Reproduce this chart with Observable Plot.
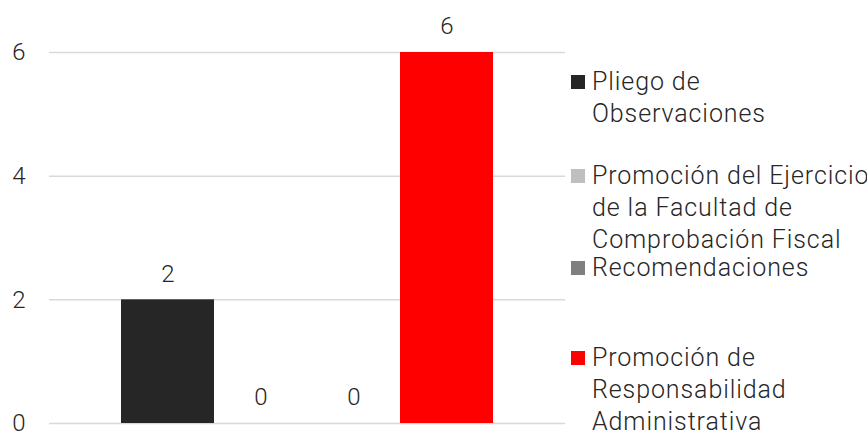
<!DOCTYPE html>
<html>
<head>
<meta charset="utf-8">
<script src="https://cdn.jsdelivr.net/npm/d3@7"></script>
<script src="https://cdn.jsdelivr.net/npm/@observablehq/plot@0.6"></script>
<style>
  html, body { margin: 0; padding: 0; background: #fff; }
  #wrap { position: relative; width: 867px; height: 432px; overflow: hidden; font-family: Roboto, sans-serif; font-weight: 300; }
  #legend { position: absolute; left: 571px; top: 0; }
  .item { position: absolute; left: 0; white-space: nowrap; }
  .sw { position: absolute; left: 0; width: 14px; height: 14px; }
  .lbl { position: absolute; left: 21px; font-size: 25px; letter-spacing: 0.9px; line-height: 32px; color: #262626; white-space: nowrap; }
</style>
</head>
<body>
<div id="wrap"></div>
<script>
const series = [
  "Pliego de Observaciones",
  "Promoción del Ejercicio de la Facultad de Comprobación Fiscal",
  "Recomendaciones",
  "Promoción de Responsabilidad Administrativa"
];
const legendLines = [
  ["Pliego de", "Observaciones"],
  ["Promoción del Ejercicio", "de la Facultad de", "Comprobación Fiscal"],
  ["Recomendaciones"],
  ["Promoción de", "Responsabilidad", "Administrativa"]
];
const values = [2, 0, 0, 6];
const colors = ["#262626", "#bfbfbf", "#7f7f7f", "#ff0000"];
const yTicks = [0, 2, 4, 6];

const data = series.map((s, i) => ({series: s, value: values[i]}));

const chart = Plot.plot({
  width: 867,
  height: 432,
  marginLeft: 49,
  marginRight: 302,
  marginTop: 52,
  marginBottom: 9,
  style: {fontFamily: "Roboto, sans-serif", fontWeight: 300, fontSize: "24px", color: "#262626", background: "#fff"},
  x: {domain: series, paddingInner: 0, paddingOuter: 0.765, axis: null},
  y: {domain: [0, 6], ticks: yTicks, tickSize: 0, tickPadding: 24, label: null, tickFormat: d => String(d)},
  color: {domain: series, range: colors},
  marks: [
    Plot.ruleY(yTicks, {stroke: "#d9d9d9", strokeWidth: 1.5}),
    Plot.barY(data, {x: "series", y: "value", fill: "series"}),
    Plot.text(data, {x: "series", y: "value", text: d => String(d.value), dy: -26, fill: "#262626", fontSize: 24})
  ]
});
const wrap = document.getElementById("wrap");
wrap.appendChild(chart);

// Legend (HTML)
const legendTops = [82, 176, 268, 358];
const legend = document.createElement("div");
legend.id = "legend";
legendLines.forEach((lines, i) => {
  const item = document.createElement("div");
  item.className = "item";
  item.style.top = (legendTops[i] - 16) + "px";
  const sw = document.createElement("div");
  sw.className = "sw";
  sw.style.background = colors[i];
  sw.style.top = "9px";
  item.appendChild(sw);
  lines.forEach((t, j) => {
    const l = document.createElement("div");
    l.className = "lbl";
    l.style.top = (j * 32) + "px";
    l.textContent = t;
    item.appendChild(l);
  });
  legend.appendChild(item);
});
wrap.appendChild(legend);
</script>
</body>
</html>
